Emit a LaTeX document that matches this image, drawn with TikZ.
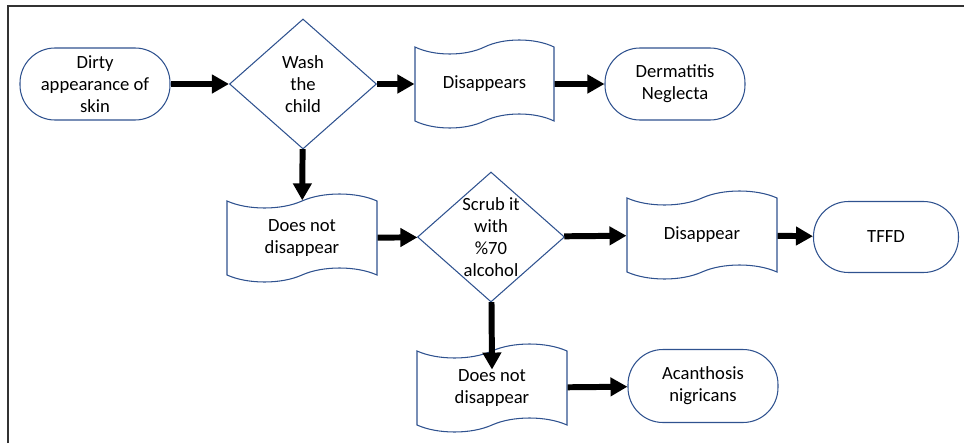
\documentclass[tikz,border=0pt]{standalone}
\usepackage{fontspec}
\setmainfont{Carlito}
\usetikzlibrary{arrows.meta, shapes.geometric, shapes.symbols}
\usetikzlibrary{calc}

\definecolor{shapeblue}{RGB}{47,82,143}
\definecolor{framegray}{RGB}{50,50,50}

\begin{document}
\begin{tikzpicture}[
        every node/.style={font=\fontsize{10.6}{12.5}\selectfont, align=center},
        terminal/.style={draw=shapeblue, line width=0.6pt, rectangle, rounded corners=0.7cm, minimum height=1.44cm},
        decision/.style={draw=shapeblue, line width=0.6pt, diamond, aspect=1.13, inner sep=0pt, minimum width=2.94cm, minimum height=2.6cm},
        tapebox/.style={draw=shapeblue, line width=0.6pt, tape, tape bend height=0.28cm, minimum width=3cm, minimum height=1.76cm},
        flowarrow/.style={line width=3.4pt, -{Triangle[length=3.4mm, width=3.6mm]}}
    ]
        \useasboundingbox (0,0) rectangle (19.28,-8.86);
        \draw[framegray, line width=1.1pt] (0.16,-8.86) -- (0.16,-0.12) -- (19.28,-0.12);
        
        % first row
        \node[terminal, minimum width=3cm] (dirty) at (1.90,-1.68) {Dirty\\appearance of\\skin};
        \node[decision] (wash) at (6.06,-1.68) {Wash\\the\\child};
        \node[tapebox, minimum width=2.78cm] (disappears) at (9.69,-1.68) {Disappears};
        \node[terminal, minimum width=2.8cm] (neglecta) at (13.50,-1.68) {Dermatitis\\Neglecta};
        
        % second row
        \node[tapebox] (notgone) at (6.04,-4.76) {Does not\\disappear};
        \node[decision] (scrub) at (9.82,-4.74) {Scrub it\\with\\\%70\\alcohol};
        \node[tapebox] (gone) at (14.04,-4.70) {Disappear};
        \node[terminal, minimum width=2.9cm, minimum height=1.42cm] (tffd) at (17.72,-4.74) {TFFD};
        
        % third row
        \node[tapebox] (stillthere) at (9.84,-7.76) {Does not\\disappear};
        \node[terminal, minimum width=3cm, minimum height=1.46cm] (acanthosis) at (14.06,-7.72) {Acanthosis\\nigricans};
        
        \draw[flowarrow] (dirty) -- (wash);
        \draw[flowarrow] (wash) -- (disappears);
        \draw[flowarrow] (disappears) -- (neglecta);
        \draw[flowarrow] (wash) -- (notgone);
        \draw[flowarrow] (notgone) -- (scrub);
        \draw[flowarrow] (scrub) -- (gone);
        \draw[flowarrow] (gone) -- (tffd);
        \draw[flowarrow] (scrub) -- ($(stillthere.north)+(0,-0.38)$);
        \draw[flowarrow] (stillthere) -- (acanthosis);
        
    \end{tikzpicture}
\end{document}
